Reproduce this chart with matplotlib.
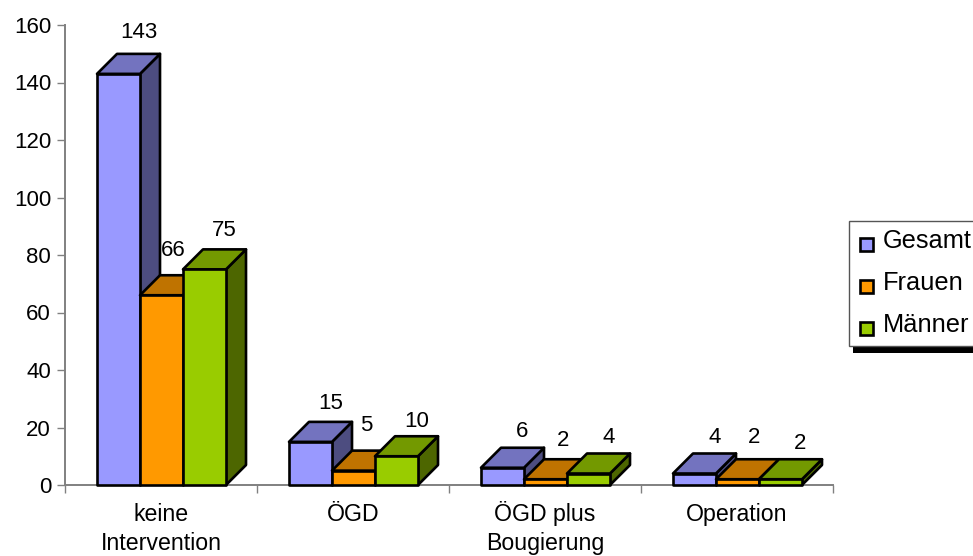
import matplotlib

matplotlib.use('Agg')
import matplotlib.pyplot as plt
from matplotlib.patches import Polygon, Rectangle

plt.rcParams['font.family'] = ['Liberation Sans', 'DejaVu Sans']

categories = ['keine\nIntervention', 'ÖGD', 'ÖGD plus\nBougierung', 'Operation']
series_names = ['Gesamt', 'Frauen', 'Männer']
gesamt = [143, 15, 6, 4]
frauen = [66, 5, 2, 2]
maenner = [75, 10, 4, 2]
y_ticks = [0, 20, 40, 60, 80, 100, 120, 140, 160]

# front, top and side shades per series
front_colors = ['#9999ff', '#ff9900', '#99cc00']
top_colors = ['#7373bf', '#bf7300', '#739900']
side_colors = ['#4d4d80', '#804d00', '#4d6600']

W, H = 973, 556
AX_L, AX_R, AX_T, AX_B = 65, 833, 25, 485

fig = plt.figure(figsize=(W / 100, H / 100), dpi=100)
fig.patch.set_facecolor('white')
ax = fig.add_axes([AX_L / W, 1 - AX_B / H, (AX_R - AX_L) / W, (AX_B - AX_T) / H])
ax.set_xlim(0, len(categories))
ax.set_ylim(0, 160)

# fake 3D bars: sheared top and side faces behind each front face
group_px = (AX_R - AX_L) / len(categories)
bar_w = 43 / group_px
start = 32 / group_px
dx = 20 / group_px
dy = 20 / ((AX_B - AX_T) / 160)
edge = dict(edgecolor='black', linewidth=1.9, joinstyle='round', clip_on=False)

# label nudges in pixels, per series then per group
label_dx = [[0, 0, 0, 0], [-8, -7, -2, -3], [0, 0, 0, 0]]
label_dy = [[21, 18, 16, 16], [25, 25, 19, 22], [19, 15, 16, 16]]

z = 3
for g in range(len(categories)):
    for s, values in enumerate([gesamt, frauen, maenner]):
        v = values[g]
        x0 = g + start + s * bar_w
        x1 = x0 + bar_w
        ax.add_patch(Polygon([(x1, 0), (x1 + dx, dy), (x1 + dx, v + dy), (x1, v)],
                             facecolor=side_colors[s], zorder=z, **edge))
        ax.add_patch(Polygon([(x0, v), (x0 + dx, v + dy), (x1 + dx, v + dy), (x1, v)],
                             facecolor=top_colors[s], zorder=z, **edge))
        ax.bar(x0, v, bar_w, align='edge', color=front_colors[s], zorder=z, **edge)
        ax.annotate(str(v), xy=(x0 + bar_w / 2 + dx, v + dy),
                    xytext=(label_dx[s][g] * 0.72, label_dy[s][g] * 0.72),
                    textcoords='offset points', ha='center', va='center',
                    fontsize=16, color='black', zorder=100, annotation_clip=False)
        z += 1

for side in ['top', 'right']:
    ax.spines[side].set_visible(False)
for side in ['left', 'bottom']:
    ax.spines[side].set_color('#808080')
    ax.spines[side].set_linewidth(1.4)

ax.set_yticks(y_ticks)
ax.tick_params(axis='y', length=6, width=1, color='#808080', pad=4, labelsize=16)
ax.set_xticks(range(len(categories) + 1), [''] * (len(categories) + 1))
ax.tick_params(axis='x', which='major', length=6, width=1, color='#808080')

# category names line by line, each on its own baseline below the axis
for g, name in enumerate(categories):
    for i, line in enumerate(name.split('\n')):
        ax.annotate(line, xy=(g + 0.5, 0), xytext=(0, (-36 - 29 * i) * 0.72),
                    textcoords='offset points', ha='center', va='baseline',
                    fontsize=16.7, color='black', annotation_clip=False)

# legend box, runs off the right edge of the figure
fig.add_artist(Rectangle((853 / W, 1 - 353 / H), 130 / W, 10 / H, transform=fig.transFigure,
                         facecolor='black', edgecolor='none'))
fig.add_artist(Rectangle((849 / W, 1 - 346 / H), 134 / W, 125 / H, transform=fig.transFigure,
                         facecolor='white', edgecolor='#555555', linewidth=1))
legend_y = [244, 286, 328]
for name, col, ly in zip(series_names, front_colors, legend_y):
    fig.add_artist(Rectangle((860 / W, 1 - (ly + 6.5) / H), 13 / W, 13 / H,
                             transform=fig.transFigure, facecolor=col,
                             edgecolor='black', linewidth=1.9))
    fig.text(883 / W, 1 - (ly - 3) / H, name, ha='left', va='center', fontsize=18.3, color='black')

fig.savefig('out.png', dpi=100, facecolor='white')
